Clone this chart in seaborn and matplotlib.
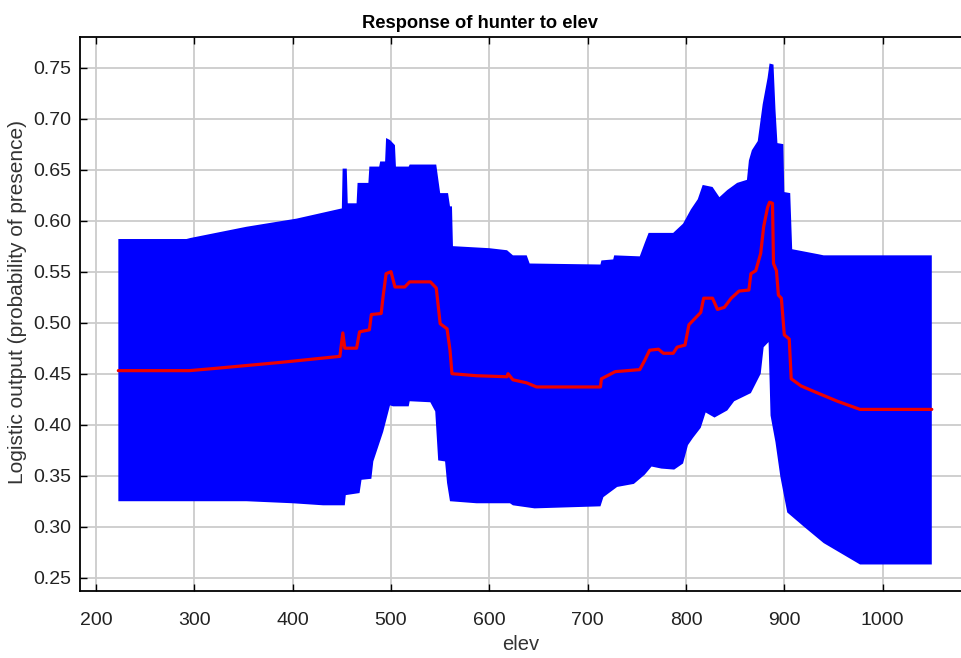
import numpy as np
import pandas as pd
import matplotlib
matplotlib.use("Agg")
import matplotlib.pyplot as plt
import seaborn as sns

# ---- data ----
upper_x = [222.7, 292, 296, 353, 404, 450, 450.8, 455, 456, 465, 466, 477, 478, 488, 489, 494,
           495, 499, 504, 505, 518, 519, 546, 550, 558, 560, 562, 563, 600, 618, 624, 638, 641,
           713, 714, 726, 727, 753, 758, 762, 787, 797, 805, 812, 817, 827, 834, 842, 852, 862,
           864, 867, 873, 878, 883, 885, 889, 891, 893, 899, 900, 906, 908, 935, 940, 1050]
upper_y = [0.582, 0.582, 0.583, 0.594, 0.602, 0.612, 0.651, 0.651, 0.617, 0.617, 0.637, 0.637,
           0.653, 0.653, 0.658, 0.658, 0.681, 0.679, 0.674, 0.653, 0.653, 0.655, 0.655, 0.627,
           0.627, 0.614, 0.614, 0.575, 0.573, 0.571, 0.566, 0.566, 0.558, 0.557, 0.561, 0.562,
           0.566, 0.565, 0.578, 0.588, 0.588, 0.597, 0.611, 0.621, 0.635, 0.633, 0.623, 0.630,
           0.637, 0.640, 0.659, 0.669, 0.678, 0.714, 0.740, 0.754, 0.753, 0.709, 0.676, 0.675,
           0.628, 0.627, 0.572, 0.567, 0.566, 0.566]

lower_x = [222.7, 309, 353, 400, 431, 453, 454, 468, 470, 480, 482, 492, 499, 502, 518, 519,
           540, 545, 548, 555, 557, 560, 587, 621, 624, 646, 713, 716, 730, 747, 758, 765, 775,
           788, 797, 802, 807, 815, 820, 829, 842, 849, 866, 876, 879, 884, 886, 891, 896, 903,
           920, 940, 977, 1050]
lower_y = [0.325, 0.325, 0.325, 0.323, 0.321, 0.321, 0.331, 0.333, 0.346, 0.347, 0.364, 0.393,
           0.419, 0.418, 0.418, 0.423, 0.422, 0.413, 0.365, 0.364, 0.343, 0.325, 0.323, 0.323,
           0.321, 0.318, 0.320, 0.329, 0.339, 0.342, 0.351, 0.359, 0.357, 0.356, 0.362, 0.380,
           0.387, 0.397, 0.412, 0.407, 0.414, 0.423, 0.431, 0.450, 0.476, 0.481, 0.409, 0.383,
           0.349, 0.314, 0.300, 0.284, 0.263, 0.263]

mean_x = [222.7, 295, 319, 387, 448, 451, 453, 465, 468, 478, 480, 490, 492, 495, 500, 504,
          514, 519, 540, 546, 550, 557, 560, 562, 587, 618, 619, 624, 638, 648, 713, 714, 728,
          753, 758, 763, 772, 777, 787, 791, 799, 803, 808, 815, 818, 827, 832, 839, 846, 854,
          864, 866, 871, 876, 879, 883, 885, 888, 889, 892, 894, 897, 900, 905, 907, 917, 934,
          954, 977, 1050]
mean_y = [0.453, 0.453, 0.455, 0.461, 0.467, 0.490, 0.475, 0.475, 0.491, 0.493, 0.508, 0.509,
          0.526, 0.548, 0.550, 0.535, 0.535, 0.540, 0.540, 0.534, 0.499, 0.494, 0.473, 0.450,
          0.448, 0.447, 0.450, 0.444, 0.441, 0.437, 0.437, 0.445, 0.452, 0.454, 0.463, 0.473,
          0.474, 0.470, 0.470, 0.476, 0.478, 0.498, 0.503, 0.510, 0.524, 0.524, 0.513, 0.515,
          0.524, 0.531, 0.532, 0.548, 0.551, 0.568, 0.594, 0.613, 0.618, 0.617, 0.558, 0.551,
          0.527, 0.524, 0.488, 0.484, 0.445, 0.438, 0.431, 0.423, 0.415, 0.415]

x_ticks = [200, 300, 400, 500, 600, 700, 800, 900, 1000]
y_ticks = [0.25, 0.30, 0.35, 0.40, 0.45, 0.50, 0.55, 0.60, 0.65, 0.70, 0.75]

title = "Response of hunter to elev"
x_label = "elev"
y_label = "Logistic output (probability of presence)"

# ---- drawing ----
sns.set_theme(style="white")
plt.rcParams["font.family"] = ["Liberation Sans", "DejaVu Sans"]

W, H = 961, 658
fig = plt.figure(figsize=(W / 100, H / 100), dpi=100)
left, right, top, bottom = 80, 961, 37, 590.7
axw, axh = right - left, bottom - top
ax = fig.add_axes([left / W, (H - bottom) / H, axw / W, axh / H])

poly_x = np.concatenate([upper_x, lower_x[::-1]])
poly_y = np.concatenate([upper_y, lower_y[::-1]])
ax.fill(poly_x, poly_y, color="#0000ff", lw=0, zorder=2)

df = pd.DataFrame({"elev": mean_x, "resp": mean_y})
sns.lineplot(data=df, x="elev", y="resp", ax=ax, color="#ee0000", lw=2.3,
             sort=False, estimator=None, zorder=3)

ax.set_xlim(183.7, 1079.7)
ax.set_ylim(0.2373, 0.780)
ax.set_xticks(x_ticks)
ax.set_yticks(y_ticks)
ax.set_yticklabels([f"{v:.2f}" for v in y_ticks])
ax.grid(True, color="#cccccc", lw=1.3)
ax.set_axisbelow(True)

for s in ["left", "top", "bottom"]:
    ax.spines[s].set_color("black")
    ax.spines[s].set_linewidth(1.3)
ax.spines["right"].set_visible(False)

ax.tick_params(direction="in", length=5, width=1, top=True, bottom=True, left=True,
               right=False, labelsize=14, colors="black", labelcolor="#222222")
ax.tick_params(axis="x", pad=15.5)
ax.tick_params(axis="y", pad=6)

ax.set_title(title, fontsize=13.2, fontweight="bold",
             x=(480.5 - left) / axw, pad=6.5, color="#000000")
ax.set_xlabel(x_label, fontsize=14.5, color="#333333", labelpad=4)
ax.set_ylabel(y_label, fontsize=15, color="#333333")
ax.yaxis.set_label_coords((27 - left) / axw, (bottom - 302) / axh)

fig.savefig("out.png", dpi=100)
